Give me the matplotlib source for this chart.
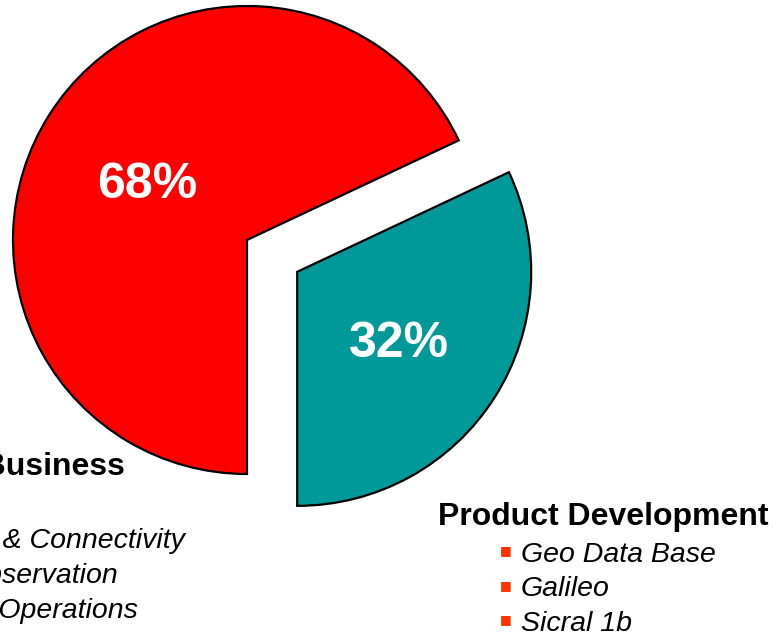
import matplotlib
matplotlib.use("Agg")
import matplotlib.pyplot as plt

plt.rcParams['font.family'] = ['Liberation Sans', 'DejaVu Sans']

# Data
segments = ["Business", "Product Development"]
shares = [68, 32]
colors = ["#FF0000", "#009999"]
explode = [0.0, 0.254]

left_header = "Core Business"
left_items = ["Telecom & Connectivity", "Earth Observation", "Satellite Operations"]
right_header = "Product Development"
right_items = ["Geo Data Base", "Galileo", "Sicral 1b"]

W, H = 774, 635
fig = plt.figure(figsize=(W / 100, H / 100), dpi=100)
ax = fig.add_axes([0, 0, 1, 1])

R = 234.0  # pixels per unit radius
cx, cy = 247.0, 240.0  # pie centre in pixels (from top-left)

wedges, texts, autotexts = ax.pie(
    shares, colors=colors, explode=explode, startangle=25.2,
    counterclock=True, radius=1.0,
    autopct=lambda p: f"{p:.0f}%", pctdistance=0.5,
    wedgeprops=dict(edgecolor="black", linewidth=1.6),
    textprops=dict(color="white", fontsize=36, fontweight="bold"),
)
# fine-tune label placement (label sits slightly off the bisector)
for t, dx, dy in zip(autotexts, [-0.005, 0.012], [-0.012, -0.017]):
    x, y = t.get_position()
    t.set_position((x + dx, y + dy))
    t.set_va('center_baseline')

ax.set_aspect('auto')
ax.set_xlim(-cx / R, (W - cx) / R)
ax.set_ylim(-(H - cy) / R, cy / R)
ax.axis('off')

# Text annotations in pixel coordinates (figure pixels from top-left)
def px(x, y):
    return (x / W, 1 - y / H)

fs_head = 23
fs_item = 20.5

fig.text(*px(125, 475), left_header, ha='right', va='baseline',
         fontsize=fs_head, fontweight='bold', color='black')
for i, (item, xr) in enumerate(zip(left_items, [185, 118, 138])):
    fig.text(*px(xr, 548 + i * 35), item, ha='right', va='baseline',
             fontsize=fs_item, fontstyle='italic', color='black')

fig.text(*px(438, 525), right_header, ha='left', va='baseline',
         fontsize=fs_head, fontweight='bold', color='black')
for i, item in enumerate(right_items):
    yb = 562 + i * 34.5
    fig.text(*px(521, yb), item, ha='left', va='baseline',
             fontsize=fs_item, fontstyle='italic', color='black')
    fig.text(*px(506, yb - 11), "\u25A0", ha='center', va='center',
             fontsize=9, color='#FF3300', family=['DejaVu Sans'])

fig.savefig("out.png", dpi=100)
